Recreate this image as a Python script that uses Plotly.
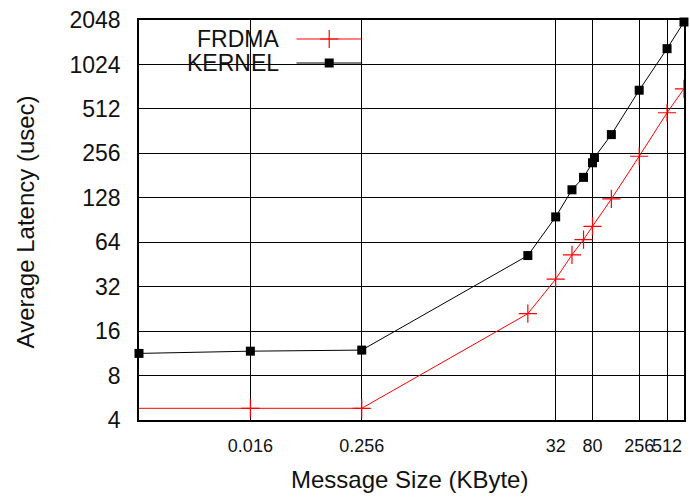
import plotly.graph_objects as go

# Message sizes in KByte and average latency in microseconds
kernel_size = [0.001, 0.016, 0.256, 16, 32, 48, 64, 80, 84, 128, 256, 512, 780]
kernel_lat = [11.3, 11.7, 11.9, 52, 95, 145, 176, 221, 240, 343, 685, 1310, 1985]

frdma_size = [0.0008, 0.016, 0.256, 16, 32, 48, 64, 80, 128, 256, 512, 780]
frdma_lat = [4.8, 4.8, 4.8, 21.0, 36.0, 52.6, 66.6, 82, 125.7, 244.6, 482, 700]

x_ticks = [0.016, 0.256, 32, 80, 256, 512]
x_tick_text = ["0.016", "0.256", "32", "80", "256", "512"]
y_ticks = [4, 8, 16, 32, 64, 128, 256, 512, 1024, 2048]
y_tick_text = [str(v) for v in y_ticks]

FONT = "Liberation Sans, Arial, sans-serif"
INK = "#111111"

fig = go.Figure()

fig.add_trace(go.Scatter(
    x=frdma_size, y=frdma_lat, mode="lines+markers", name="FRDMA",
    line=dict(color="#ff0000", width=1),
    marker=dict(symbol="cross-thin-open", size=13, color="#ff0000",
                line=dict(color="#ff0000", width=1.2)),
    cliponaxis=True, showlegend=False,
))
fig.add_trace(go.Scatter(
    x=kernel_size, y=kernel_lat, mode="lines+markers", name="KERNEL",
    line=dict(color="#000000", width=1),
    marker=dict(symbol="square", size=9, color="#000000"),
    cliponaxis=False, showlegend=False,
))

# Key samples drawn on an overlay axis spanning the plot area (0..1)
key_x = [0.289, 0.4095]
key_mid = 0.349
fig.add_trace(go.Scatter(
    x=key_x, y=[0.9525, 0.9525], xaxis="x2", yaxis="y2", mode="lines",
    line=dict(color="#ff0000", width=1), showlegend=False, hoverinfo="skip",
))
fig.add_trace(go.Scatter(
    x=[key_mid], y=[0.9525], xaxis="x2", yaxis="y2", mode="markers",
    marker=dict(symbol="cross-thin-open", size=13, color="#ff0000",
                line=dict(color="#ff0000", width=1.2)),
    showlegend=False, hoverinfo="skip",
))
fig.add_trace(go.Scatter(
    x=key_x, y=[0.8925, 0.8925], xaxis="x2", yaxis="y2", mode="lines",
    line=dict(color="#000000", width=1), showlegend=False, hoverinfo="skip",
))
fig.add_trace(go.Scatter(
    x=[key_mid], y=[0.8925], xaxis="x2", yaxis="y2", mode="markers",
    marker=dict(symbol="square", size=9, color="#000000"),
    showlegend=False, hoverinfo="skip",
))

# White key box covering the grid
fig.add_shape(type="rect", xref="paper", yref="paper",
              x0=0.029, x1=0.431, y0=0.805, y1=0.9825,
              fillcolor="white", line=dict(width=0), layer="between")

for label, yy in (("FRDMA", 0.9525), ("KERNEL", 0.8925)):
    fig.add_annotation(text=label, xref="paper", yref="paper",
                       x=0.2614, y=yy, xanchor="right", yanchor="middle",
                       showarrow=False, font=dict(family=FONT, size=23, color=INK))

fig.add_annotation(text="Average Latency (usec)", xref="paper", yref="paper",
                   x=-0.2084, y=0.495, textangle=-90, showarrow=False,
                   xanchor="center", yanchor="middle",
                   font=dict(family=FONT, size=24, color=INK))
fig.add_annotation(text="Message Size (KByte)", xref="paper", yref="paper",
                   x=0.497, y=-0.148, showarrow=False,
                   xanchor="center", yanchor="middle",
                   font=dict(family=FONT, size=24, color=INK))

fig.update_layout(
    width=690, height=497,
    margin=dict(l=139, r=4, t=20, b=77),
    paper_bgcolor="white", plot_bgcolor="white",
    font=dict(family=FONT, color=INK),
    xaxis=dict(
        type="log", range=[-3, 2.8925], tickvals=x_ticks, ticktext=x_tick_text,
        showgrid=True, gridcolor="#000000", gridwidth=1.4,
        showline=True, linecolor="#000000", linewidth=1.5, mirror=True,
        ticks="", tickangle=0, tickfont=dict(size=18, family=FONT, color=INK),
        ticklabelstandoff=9, zeroline=False,
    ),
    yaxis=dict(
        type="log", range=[0.60206, 3.3114], tickvals=y_ticks, ticktext=y_tick_text,
        showgrid=True, gridcolor="#000000", gridwidth=1.4,
        showline=True, linecolor="#000000", linewidth=1.5, mirror=True,
        ticks="", tickfont=dict(size=23, family=FONT, color=INK),
        ticklabelstandoff=12, zeroline=False,
    ),
    xaxis2=dict(overlaying="x", range=[0, 1], visible=False, fixedrange=True),
    yaxis2=dict(overlaying="y", range=[0, 1], visible=False, fixedrange=True),
)

fig.write_html("out.html")
